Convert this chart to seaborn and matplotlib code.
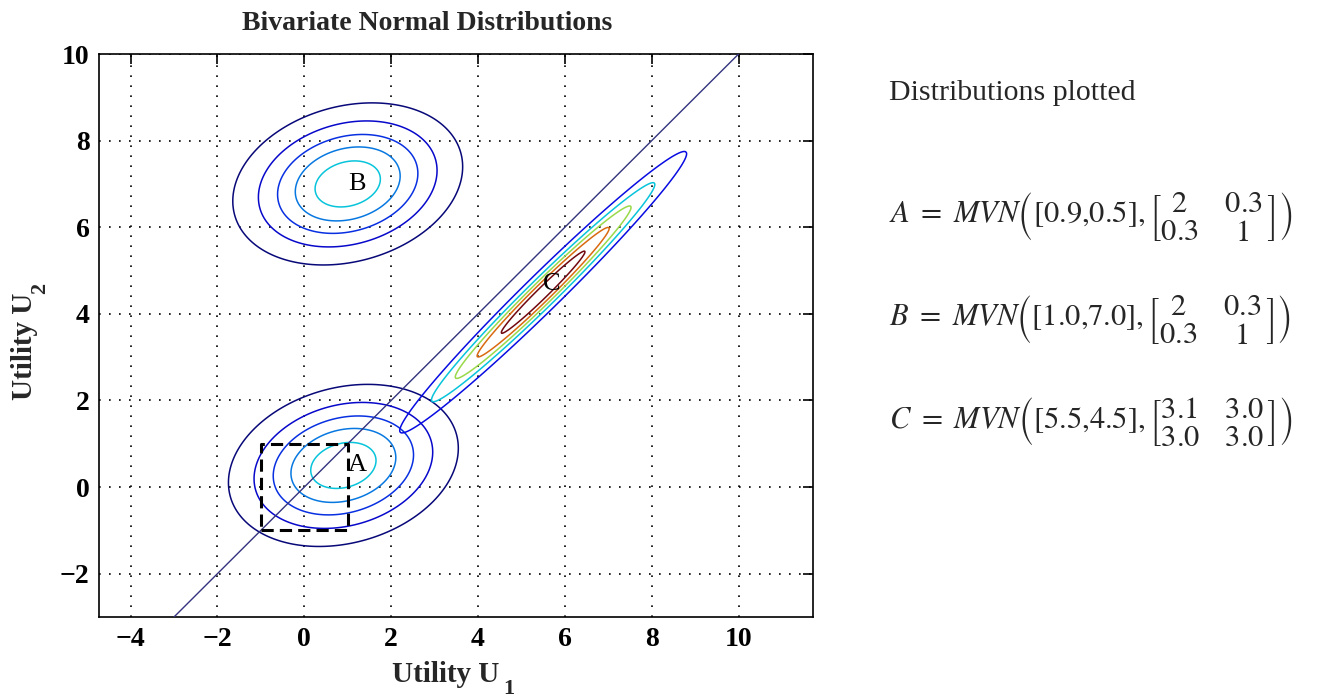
import numpy as np
import pandas as pd
import matplotlib
matplotlib.use("Agg")
import matplotlib.pyplot as plt
from matplotlib.colors import Normalize, ListedColormap
import seaborn as sns

# ---------------- data ----------------
names = ["A", "B", "C"]
mean_x = [0.9, 1.0, 5.5]
mean_y = [0.5, 7.0, 4.5]
var_x = [2.0, 2.0, 3.1]
var_y = [1.0, 1.0, 3.0]
cov_xy = [0.3, 0.3, 3.0]
contour_levels = [
    [0.02, 0.04, 0.06, 0.08, 0.10],
    [0.02, 0.04, 0.06, 0.08, 0.10],
    [0.05, 0.10, 0.15, 0.20, 0.25],
]
label_x = [1.0, 1.0, 5.5]
label_y = [0.5, 7.0, 4.7]
box_x = [-1, 1, 1, -1, -1]
box_y = [-1, -1, 1, 1, -1]
xticks = [-4, -2, 0, 2, 4, 6, 8, 10]
yticks = [-2, 0, 2, 4, 6, 8, 10]
eq_text = [
    r"$A\ =\ MVN\left([0.9{,}0.5],\left[\genfrac{}{}{0}{0}{2}{0.3}\quad\genfrac{}{}{0}{0}{0.3}{1}\right]\right)$",
    r"$B\ =\ MVN\left([1.0{,}7.0],\left[\genfrac{}{}{0}{0}{2}{0.3}\quad\genfrac{}{}{0}{0}{0.3}{1}\right]\right)$",
    r"$C\ =\ MVN\left([5.5{,}4.5],\left[\genfrac{}{}{0}{0}{3.1}{3.0}\quad\genfrac{}{}{0}{0}{3.0}{3.0}\right]\right)$",
]

# ---------------- style ----------------
sns.set_style("white")
plt.rcParams["font.family"] = ["Liberation Serif", "DejaVu Serif"]
plt.rcParams["mathtext.fontset"] = "stix"

# slightly muted jet colormap (MATLAB-like look)
jet = matplotlib.colormaps["jet"](np.linspace(0, 1, 256))
muted = jet.copy()
muted[:, :3] = 0.82 * jet[:, :3] + 0.18 * np.array([0.18, 0.18, 0.35])
cmap = ListedColormap(muted)

W, H = 1341, 698
fig = plt.figure(figsize=(W / 100, H / 100), dpi=100)
fig.patch.set_facecolor("white")
ax = fig.add_axes([99.3 / W, 1 - 617 / H, (813.3 - 99.3) / W, (617 - 54) / H])
ax.set_facecolor("white")

xmin, xmax, ymin, ymax = -4.72, 11.72, -3.0, 10.0
gx = np.linspace(xmin, xmax, 700)
gy = np.linspace(ymin, ymax, 600)
X, Y = np.meshgrid(gx, gy)
norm = Normalize(0.02, 0.25)
for mx, my, sx, sy, sxy, lv in zip(mean_x, mean_y, var_x, var_y, cov_xy, contour_levels):
    det = sx * sy - sxy ** 2
    dx, dy = X - mx, Y - my
    q = (sy * dx ** 2 - 2 * sxy * dx * dy + sx * dy ** 2) / det
    Z = np.exp(-q / 2) / (2 * np.pi * np.sqrt(det))
    ax.contour(X, Y, Z, levels=lv, cmap=cmap, norm=norm, linewidths=1.1, zorder=2)

# diagonal line y = x
ax.axline((0, 0), slope=1, color="#33337f", lw=1.0, zorder=3)

# dashed square
box = pd.DataFrame({"x": box_x, "y": box_y})
sns.lineplot(data=box, x="x", y="y", sort=False, estimator=None, ax=ax,
             color="black", lw=2.2, linestyle=(0, (4, 2)), zorder=4)

for n, lx, ly in zip(names, label_x, label_y):
    ax.text(lx, ly, n, ha="left", va="center", fontsize=19, color="black", zorder=5)

ax.set_xlim(xmin, xmax)
ax.set_ylim(ymin, ymax)
ax.set_xticks(xticks)
ax.set_yticks(yticks)
ax.set_xlabel("")
ax.set_ylabel("")
ax.grid(True, color="black", linestyle=(0, (1, 5)), lw=1.2)
ax.tick_params(direction="in", length=7, width=1.2, top=True, right=True,
               labelsize=20, pad=7, colors="black")
for lab in ax.get_xticklabels() + ax.get_yticklabels():
    lab.set_fontweight("bold")
for s in ax.spines.values():
    s.set_color("black")
    s.set_linewidth(1.2)

# title and axis labels
fig.text(427 / W, 1 - 23 / H, "Bivariate Normal Distributions", fontsize=20,
         fontweight="bold", ha="center", va="center")
fig.text(392 / W, 1 - 682 / H, "Utility U", fontsize=21, fontweight="bold",
         ha="left", va="baseline")
fig.text(503 / W, 1 - 694 / H, "1", fontsize=16, fontweight="bold",
         ha="left", va="baseline")
fig.text(32 / W, 1 - 400 / H, "Utility U", fontsize=21, fontweight="bold",
         rotation=90, rotation_mode="anchor", ha="left", va="baseline")
fig.text(45 / W, 1 - 294 / H, "2", fontsize=16, fontweight="bold",
         rotation=90, rotation_mode="anchor", ha="left", va="baseline")

fig.text(889 / W, 1 - 93 / H, "Distributions plotted", fontsize=21.5, ha="left", va="center")
for i, t in enumerate(eq_text):
    fig.text(889 / W, 1 - (217 + 102 * i) / H, t, fontsize=22, ha="left", va="center")

fig.savefig("out.png", dpi=100)
